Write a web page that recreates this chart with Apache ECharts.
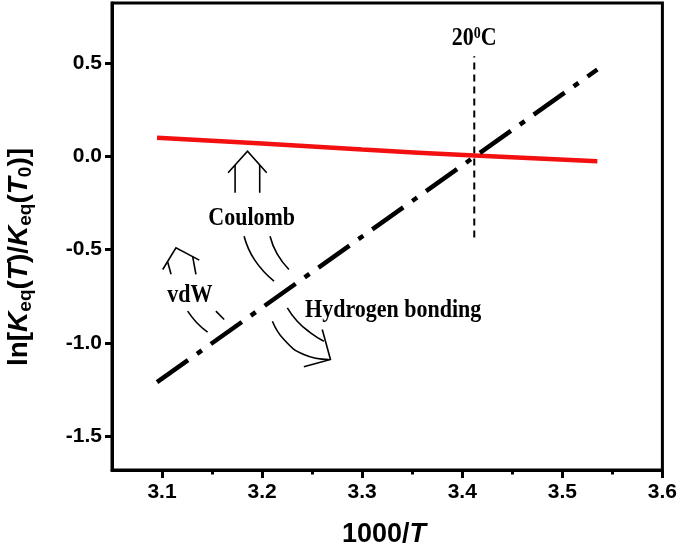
<!DOCTYPE html>
<html>
<head>
<meta charset="utf-8">
<script src="https://cdn.jsdelivr.net/npm/echarts@6/dist/echarts.min.js"></script>
<style>
  html, body { margin: 0; padding: 0; background: #fff; }
  #chart { width: 680px; height: 546px; }
</style>
</head>
<body>
<div id="chart"></div>
<script>
// ---- data ----
const xTicks = [3.1, 3.2, 3.3, 3.4, 3.5, 3.6];
const xMinorTicks = [3.15, 3.25, 3.35, 3.45, 3.55];
const yTicks = [-1.5, -1.0, -0.5, 0.0, 0.5];

const redX = [3.095, 3.2, 3.3, 3.412, 3.535];
const redY = [0.098, 0.068, 0.036, 0.003, -0.027];

const blackX = [3.095, 3.535];
const blackY = [-1.21, 0.464];

const refX = [3.412, 3.412];          // 20 °C  (1000/293.15)
const refY = [-0.435, 0.535];

// annotation sketches (data coordinates): straight strokes
const annoStraight = [
  // Coulomb up arrow
  [[3.1660, -0.0889], [3.1854, 0.0268], [3.2046, -0.0889]],
  [[3.1730, -0.047], [3.1730, -0.196]],
  [[3.1976, -0.047], [3.1976, -0.196]],
  // vdW arrow
  [[3.1007, -0.6065], [3.1139, -0.4904], [3.1372, -0.5567]],
  [[3.1057, -0.567], [3.1090, -0.6317]],
  [[3.1306, -0.538], [3.1339, -0.6333]],
  // Hydrogen bonding arrow head
  [[3.2601, -0.9277], [3.2683, -1.0883], [3.2417, -1.1274]]
];
// curved strokes
const annoCurves = [
  // Coulomb tails
  [[3.1820, -0.4283], [3.1925, -0.5550], [3.2119, -0.6692]],
  [[3.2079, -0.4283], [3.2150, -0.5230], [3.2268, -0.6065]],
  // vdW tails
  [[3.1256, -0.8298], [3.1345, -0.8900], [3.1455, -0.9422]],
  [[3.1538, -0.8298], [3.1621, -0.8742]],
  // Hydrogen bonding arrow shafts
  [[3.2252, -0.8116], [3.2351, -0.8833], [3.2484, -0.9454], [3.2617, -0.9904]],
  [[3.2103, -0.8833], [3.2218, -0.9813], [3.2417, -1.0616], [3.2666, -1.0883]]
];
const annoTexts = [
  { text: 'Coulomb', x: 3.1896, y: -0.3335 },
  { text: 'vdW', x: 3.1279, y: -0.746 },
  { text: 'Hydrogen bonding', x: 3.331, y: -0.827 },
  { text: '20{sup|0}C', x: 3.412, y: 0.630 }
];

const zip = (xs, ys) => xs.map((x, i) => [x, ys[i]]);

const chart = echarts.init(document.getElementById('chart'), null, { renderer: 'canvas' });

const sansBold = { fontFamily: 'Liberation Sans', fontWeight: 'bold' };
const serifFont = 'bold 22px "Liberation Serif"';

chart.setOption({
  animation: false,
  backgroundColor: '#fff',
  grid: {
    left: 112, right: 17, top: 3, bottom: 76,
    show: true, borderColor: '#000', borderWidth: 3, backgroundColor: 'transparent'
  },
  xAxis: [{
    type: 'value', min: 3.05, max: 3.6,
    axisLine: { show: true, onZero: false, lineStyle: { color: '#000', width: 3 } },
    axisTick: { show: true, inside: false, length: 8, customValues: xTicks, lineStyle: { color: '#000', width: 3 } },
    axisLabel: {
      customValues: xTicks, margin: 12, color: '#000', fontSize: 21, ...sansBold,
      formatter: v => v.toFixed(1)
    },
    splitLine: { show: false }
  }, {
    type: 'value', min: 3.05, max: 3.6, position: 'bottom',
    axisLine: { show: false, onZero: false },
    axisTick: { show: true, inside: false, length: 4.5, customValues: xMinorTicks, lineStyle: { color: '#000', width: 3 } },
    axisLabel: { show: false },
    splitLine: { show: false }
  }],
  yAxis: {
    type: 'value', min: -1.68, max: 0.82,
    axisLine: { show: true, onZero: false, lineStyle: { color: '#000', width: 3 } },
    axisTick: { show: true, inside: false, length: 7, customValues: yTicks, lineStyle: { color: '#000', width: 3 } },
    axisLabel: {
      customValues: yTicks, margin: 10, color: '#000', fontSize: 21, ...sansBold,
      formatter: v => v.toFixed(1)
    },
    splitLine: { show: false }
  },
  graphic: [
    {
      type: 'text', x: 19, y: 257, rotation: Math.PI / 2,
      style: {
        text: '{n|ln[}{i|K}{s|eq}{n|(}{i|T}{n|)/}{i|K}{s|eq}{n|(}{i|T}{s|0}{n|)]}',
        align: 'center', verticalAlign: 'middle', fill: '#000',
        rich: {
          n: { ...sansBold, fontSize: 28, lineHeight: 32 },
          i: { ...sansBold, fontStyle: 'italic', fontSize: 28, lineHeight: 32 },
          s: { ...sansBold, fontSize: 19, lineHeight: 17, verticalAlign: 'bottom' }
        }
      }
    },
    {
      type: 'text', x: 384, y: 535,
      style: {
        text: '1000/{i|T}', font: 'bold 27px "Liberation Sans"',
        align: 'center', verticalAlign: 'middle', fill: '#000',
        rich: { i: { ...sansBold, fontStyle: 'italic', fontSize: 27 } }
      }
    }
  ],
  series: [
    {
      type: 'line', data: zip(refX, refY), symbol: 'none', silent: true,
      lineStyle: { color: '#000', width: 2, type: [7, 5] }, z: 2
    },
    {
      type: 'line', data: zip(redX, redY), symbol: 'none', smooth: true, silent: true,
      lineStyle: { color: '#f21010', width: 4.5 }, z: 3
    },
    {
      type: 'line', data: zip(blackX, blackY), symbol: 'none', silent: true,
      lineStyle: { color: '#000', width: 4.5, type: [38, 11, 6, 11], cap: 'butt' }, z: 4
    },
    {
      type: 'custom', coordinateSystem: 'cartesian2d', data: [[3.3, 0]], silent: true, z: 5,
      clip: false,
      renderItem: function (params, api) {
        const children = [];
        annoStraight.forEach(line => {
          children.push({
            type: 'polyline',
            shape: { points: line.map(p => api.coord(p)), smooth: 0 },
            style: { stroke: '#000', lineWidth: 1.6, fill: 'none' }
          });
        });
        annoCurves.forEach(line => {
          children.push({
            type: 'polyline',
            shape: { points: line.map(p => api.coord(p)), smooth: 0.5 },
            style: { stroke: '#000', lineWidth: 1.6, fill: 'none' }
          });
        });
        annoTexts.forEach(t => {
          const c = api.coord([t.x, t.y]);
          children.push({
            type: 'text', x: c[0], y: c[1], scaleY: 1.12,
            style: {
              text: t.text, font: serifFont, fill: '#000',
              align: 'center', verticalAlign: 'middle',
              rich: { sup: { fontFamily: 'Liberation Serif', fontWeight: 'bold', fontSize: 14, lineHeight: 12, verticalAlign: 'top' } }
            }
          });
        });
        return { type: 'group', children };
      }
    }
  ]
});
</script>
</body>
</html>
